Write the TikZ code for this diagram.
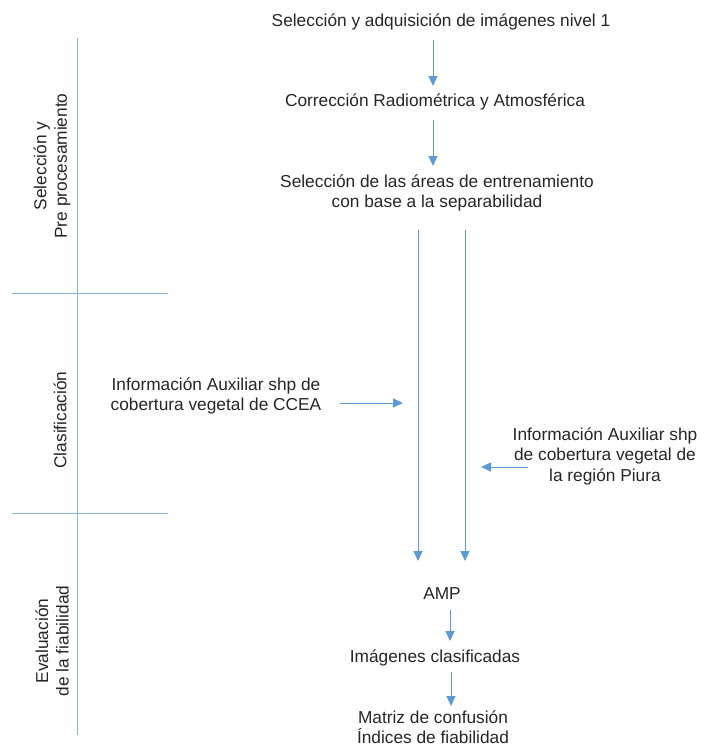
\documentclass[tikz,border=0pt]{standalone}
\usepackage{fontspec}
\setmainfont{Liberation Sans}
\usetikzlibrary{arrows.meta}
\definecolor{lineblue}{RGB}{91,155,213}
\definecolor{txt}{RGB}{38,38,38}

\begin{document}
\begin{tikzpicture}[x=1pt, y=-1pt,
    lbl/.style={text=txt, font=\fontsize{17.3}{20.5}\selectfont, align=center, inner sep=0pt},
    side/.style={lbl, rotate=90},
    arr/.style={draw=lineblue, line width=1pt, -{Triangle[length=10pt, width=9pt]}},
    rule/.style={draw=lineblue!75, line width=1pt}]
        \useasboundingbox (0,0) rectangle (701,747);
        % phases on the left
        \draw[rule] (77,38) -- (77,735);
        \draw[rule] (12,293) -- (168,293);
        \draw[rule] (12,513) -- (168,513);
        \node[side] (sel) at (52,166) {Selección y\\Pre procesamiento};
        \node[side] (cla) at (60,420) {Clasificación};
        \node[side] (eva) at (52,641) {Evaluación\\de la fiabilidad};
        % steps
        \node[lbl] (adq) at (441,22) {Selección y adquisición de imágenes nivel 1};
        \node[lbl] (cor) at (435,102) {Corrección Radiométrica y Atmosférica};
        \node[lbl] (are) at (437,193) {Selección de las áreas de entrenamiento\\con base a la separabilidad};
        \node[lbl] (ccea) at (216,396) {Información Auxiliar shp de\\cobertura vegetal de CCEA};
        \node[lbl] (piu) at (605,456) {Información Auxiliar shp\\de cobertura vegetal de\\la región Piura};
        \node[lbl] (amp) at (442,594) {AMP};
        \node[lbl] (img) at (435,658) {Imágenes clasificadas};
        \node[lbl] (mat) at (433,727) {Matriz de confusión\\Índices de fiabilidad};
        \coordinate (a1) at (433,40);
        \coordinate (a2) at (433,86);
        \coordinate (b1) at (433,120);
        \coordinate (b2) at (433,166);
        \coordinate (c1) at (418,230);
        \coordinate (c2) at (418,561);
        \coordinate (d1) at (465,230);
        \coordinate (d2) at (465,561);
        \coordinate (e1) at (340,403);
        \coordinate (e2) at (403,403);
        \coordinate (f1) at (528,467);
        \coordinate (f2) at (481,467);
        \coordinate (g1) at (450,610);
        \coordinate (g2) at (450,641);
        \coordinate (h1) at (451,672);
        \coordinate (h2) at (451,706);
        \foreach \p in {a,b,c,d,e,f,g,h}{
        \draw[arr] (\p1) -- (\p2);
        }
      \end{tikzpicture}
\end{document}
